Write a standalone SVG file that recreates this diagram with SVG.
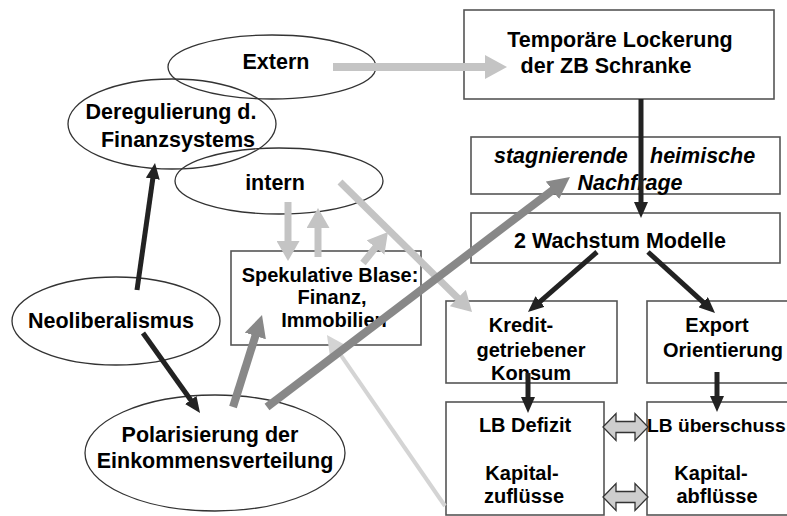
<svg xmlns="http://www.w3.org/2000/svg" width="787" height="516" viewBox="0 0 787 516">
<style>
text{font-family:"Liberation Sans",Arial,sans-serif;font-weight:bold;fill:#000;}
.big{font-size:21.5px;}
.sm{font-size:20px;}
.it{font-style:italic;}
.ell{fill:none;stroke:#333;stroke-width:1.3;}
.box{fill:none;stroke:#555;stroke-width:1.6;}
.blk{stroke:#222;stroke-width:5;fill:none;}
.lg{stroke:#c4c4c4;stroke-width:8;fill:none;}
.lgs{stroke:#c4c4c4;stroke-width:7;fill:none;}
.lt{stroke:#d4d4d4;stroke-width:4;fill:none;}
.dg{stroke:#888;stroke-width:8;fill:none;}
.dbl{fill:#cdcdcd;stroke:#333;stroke-width:1.3;}
</style>
<defs>
<marker id="mb" markerUnits="userSpaceOnUse" markerWidth="16" markerHeight="14" refX="8" refY="7" orient="auto"><path d="M0,0 L16,7 L0,14 z" fill="#222"/></marker>
<marker id="ml" markerUnits="userSpaceOnUse" markerWidth="22" markerHeight="24" refX="11" refY="12" orient="auto"><path d="M0,0 L22,12 L0,24 z" fill="#c4c4c4"/></marker>
<marker id="ml2" markerUnits="userSpaceOnUse" markerWidth="20" markerHeight="23" refX="10" refY="11.5" orient="auto"><path d="M0,0 L20,11.5 L0,23 z" fill="#c4c4c4"/></marker>
<marker id="mt" markerUnits="userSpaceOnUse" markerWidth="22" markerHeight="22" refX="11" refY="11" orient="auto"><path d="M0,0 L22,11 L0,22 z" fill="#d4d4d4"/></marker>
<marker id="md" markerUnits="userSpaceOnUse" markerWidth="22" markerHeight="22" refX="11" refY="11" orient="auto"><path d="M0,0 L22,11 L0,22 z" fill="#888"/></marker>
</defs>

<g id="extern"><ellipse class="ell" cx="272" cy="67" rx="104" ry="32"/><text class="big" x="276" y="69" text-anchor="middle">Extern</text></g>
<g id="deregulierung"><ellipse class="ell" cx="172" cy="124" rx="104" ry="45"/><text class="big" x="171" y="119" text-anchor="middle">Deregulierung d.</text><text class="big" x="178" y="147" text-anchor="middle">Finanzsystems</text></g>
<g id="intern"><ellipse class="ell" cx="279" cy="181" rx="104" ry="33"/><text class="big" x="275" y="190" text-anchor="middle">intern</text></g>
<g id="neoliberalismus"><ellipse class="ell" cx="116" cy="321" rx="104" ry="44"/><text class="big" x="111" y="328" text-anchor="middle">Neoliberalismus</text></g>
<g id="polarisierung"><ellipse class="ell" cx="215" cy="453" rx="130" ry="58"/><text class="big" x="210" y="442" text-anchor="middle">Polarisierung der</text><text class="big" x="215" y="468" text-anchor="middle">Einkommensverteilung</text></g>
<g id="spekulative"><rect class="box" x="231" y="251" width="190" height="94"/><text class="sm" x="330" y="282" text-anchor="middle">Spekulative Blase:</text><text class="sm" x="332" y="304" text-anchor="middle">Finanz,</text><text class="sm" x="334" y="327" text-anchor="middle">Immobilien</text></g>
<g id="temporaere"><rect class="box" x="464" y="10" width="310" height="89"/><text class="big" x="620" y="47" text-anchor="middle">Temporäre Lockerung</text><text class="big" x="606" y="73" text-anchor="middle">der ZB Schranke</text></g>
<g id="stagnierende"><rect class="box" x="471" y="137" width="309" height="57"/><text class="big it" y="163"><tspan x="494">stagnierende</tspan><tspan x="650">heimische</tspan></text><text class="big it" x="630" y="190" text-anchor="middle">Nachfrage</text></g>
<g id="wachstum"><rect class="box" x="471" y="213" width="309" height="50"/><text class="big" x="620" y="248" text-anchor="middle">2 Wachstum Modelle</text></g>
<g id="kredit"><rect class="box" x="446" y="301" width="171" height="82"/><text class="sm" x="521" y="332" text-anchor="middle">Kredit-</text><text class="sm" x="531" y="357" text-anchor="middle">getriebener</text><text class="sm" x="531" y="380" text-anchor="middle">Konsum</text></g>
<g id="export"><rect class="box" x="647" y="301" width="150" height="82"/><text class="sm" x="717" y="332" text-anchor="middle">Export</text><text class="sm" x="723" y="357" text-anchor="middle">Orientierung</text></g>
<g id="lbdefizit"><rect class="box" x="446" y="402" width="158" height="113"/><text class="sm" x="525" y="432" text-anchor="middle">LB Defizit</text><text class="sm" x="522" y="480" text-anchor="middle">Kapital-</text><text class="sm" x="524" y="503" text-anchor="middle">zuflüsse</text></g>
<g id="lbueberschuss"><rect class="box" x="647" y="402" width="150" height="113"/><text x="647" y="432" style="font-size:19.2px">LB überschuss</text><text class="sm" x="711" y="480" text-anchor="middle">Kapital-</text><text class="sm" x="717" y="503" text-anchor="middle">abflüsse</text></g>

<g id="connectors">
<line class="lg" x1="333" y1="67" x2="496" y2="67" marker-end="url(#ml)"/>
<line class="lgs" x1="288" y1="202" x2="288" y2="251" marker-end="url(#ml2)"/>
<line class="lgs" x1="318" y1="257" x2="318" y2="218" marker-end="url(#ml2)"/>
<line class="lgs" x1="363" y1="263" x2="381.7" y2="239.8" marker-end="url(#ml2)"/>
<line class="lgs" x1="340" y1="182" x2="464.9" y2="305" marker-end="url(#ml2)"/>
<line class="lt" x1="445" y1="506" x2="333.2" y2="344.1" marker-end="url(#mt)"/>
<line class="dg" x1="233" y1="407" x2="258.7" y2="325.5" marker-end="url(#md)"/>
<line class="dg" x1="267" y1="407" x2="561.2" y2="183.7" marker-end="url(#md)"/>
<line class="blk" x1="137" y1="290" x2="153.9" y2="170.9" marker-end="url(#mb)"/>
<line class="blk" x1="143" y1="333" x2="195.4" y2="406.5" marker-end="url(#mb)"/>
<line class="blk" x1="641" y1="99" x2="641" y2="210" marker-end="url(#mb)"/>
<line class="blk" x1="597" y1="252" x2="534" y2="306.8" marker-end="url(#mb)"/>
<line class="blk" x1="648" y1="252" x2="709.1" y2="307.6" marker-end="url(#mb)"/>
<line class="blk" x1="528" y1="373" x2="528" y2="405" marker-end="url(#mb)"/>
<line class="blk" x1="717" y1="372" x2="717" y2="404" marker-end="url(#mb)"/>
<path class="dbl" d="M603,427 L616,413.5 L616,421.5 L635,421.5 L635,413.5 L648,427 L635,440.5 L635,432.5 L616,432.5 L616,440.5 Z"/>
<path class="dbl" d="M603,497 L616,483.5 L616,491.5 L635,491.5 L635,483.5 L648,497 L635,510.5 L635,502.5 L616,502.5 L616,510.5 Z"/>
</g>
</svg>
